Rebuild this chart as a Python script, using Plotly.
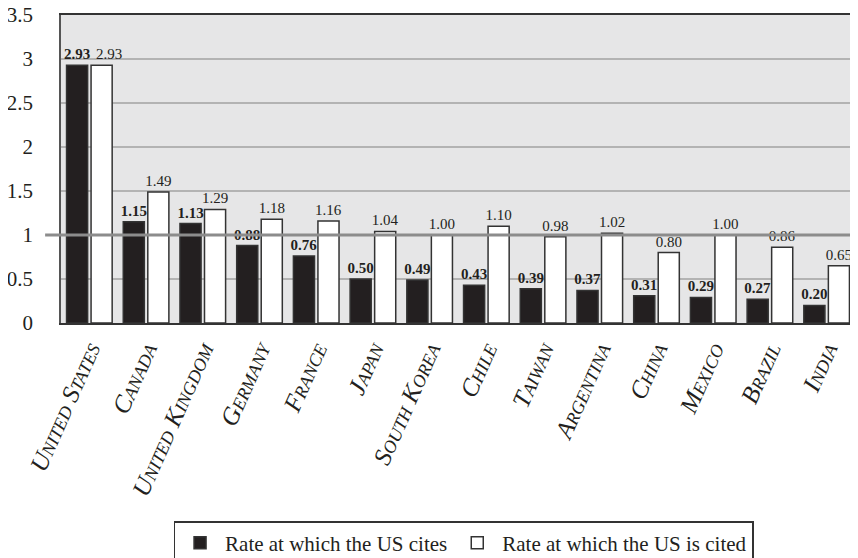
import plotly.graph_objects as go

countries = ["United States", "Canada", "United Kingdom", "Germany", "France", "Japan",
             "South Korea", "Chile", "Taiwan", "Argentina", "China", "Mexico", "Brazil", "India"]
us_cites = [2.93, 1.15, 1.13, 0.88, 0.76, 0.50, 0.49, 0.43, 0.39, 0.37, 0.31, 0.29, 0.27, 0.20]
us_cited = [2.93, 1.49, 1.29, 1.18, 1.16, 1.04, 1.00, 1.10, 0.98, 1.02, 0.80, 1.00, 0.86, 0.65]
series_names = ["Rate at which the US cites", "Rate at which the US is cited"]
y_ticks = [0, 0.5, 1, 1.5, 2, 2.5, 3, 3.5]
y_ticktext = ["0", "0.5", "1", "1.5", "2", "2.5", "3", "3.5"]

FONT = "Liberation Serif"

# label templates for the white bars; the first one is nudged right (as in the original) to avoid overlap
cited_templates = ["%{y:.2f}"] * len(countries)
cited_templates[0] = "\u00a0\u00a0\u00a0\u00a0%{y:.2f}"

fig = go.Figure()
fig.add_trace(go.Bar(
    x=countries, y=us_cites, name=series_names[0],
    marker=dict(color="#231f20", line=dict(color="#333333", width=1.5)),
    texttemplate="<b>%{y:.2f}</b>", textposition="outside", constraintext="none",
    textfont=dict(family=FONT, size=15, color="#231f20"),
    cliponaxis=False,
))
fig.add_trace(go.Bar(
    x=countries, y=us_cited, name=series_names[1],
    marker=dict(color="white", line=dict(color="#333333", width=1.5)),
    texttemplate=cited_templates, textposition="outside", constraintext="none",
    textfont=dict(family=FONT, size=15, color="#231f20"),
    cliponaxis=False,
))

fig.add_shape(type="line", xref="paper", yref="y", x0=-0.02, x1=1, y0=1, y1=1,
              line=dict(color="#8c8c8c", width=3), layer="above")

# the page body adds an 8px offset, so the figure is drawn 8px smaller
fig.update_layout(
    width=850, height=550,
    margin=dict(l=53, r=3, t=7, b=235, autoexpand=False),
    paper_bgcolor="white", plot_bgcolor="#e6e6e7",
    barmode="group", bargap=0.135, bargroupgap=0.14,
    font=dict(family=FONT, color="#231f20"),
    xaxis=dict(
        tickangle=-66, automargin=False,
        tickfont=dict(family=FONT, size=25, style="italic", variant="small-caps", color="#231f20"),
        showline=True, linecolor="#333333", linewidth=2, mirror=True,
        showgrid=False, ticks="",
    ),
    yaxis=dict(
        range=[0, 3.5], tickvals=y_ticks, ticktext=y_ticktext, automargin=False,
        tickfont=dict(family=FONT, size=21, color="#231f20"),
        showgrid=True, gridcolor="#b3b3b3", gridwidth=1.5,
        showline=True, linecolor="#555555", linewidth=1.5, mirror=True,
        zeroline=False, ticks="", ticklabelstandoff=22, ticklabeloverflow="allow",
    ),
    legend=dict(
        orientation="h",
        x=0.507, xanchor="center", y=-0.643, yanchor="top",
        font=dict(family=FONT, size=21, color="#231f20"),
        bordercolor="#333333", borderwidth=1.5, bgcolor="white",
        itemwidth=40,
    ),
)

fig.write_html("out.html")
